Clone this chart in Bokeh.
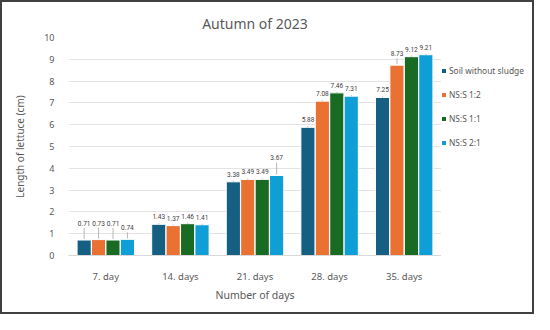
from bokeh.plotting import figure
from bokeh.layouts import row
from bokeh.models import FactorRange, Range1d, ColumnDataSource, Legend, LegendItem, SingleIntervalTicker
from bokeh.transform import dodge
from bokeh.core.properties import value
from bokeh.embed import file_html
from bokeh.resources import INLINE

categories = ["7. day", "14. days", "21. days", "28. days", "35. days"]
series_names = ["Soil without sludge", "NS:S 1:2", "NS:S 1:1", "NS:S 2:1"]
soil = [0.71, 1.43, 3.38, 5.88, 7.25]
ns12 = [0.73, 1.37, 3.49, 7.08, 8.73]
ns11 = [0.71, 1.46, 3.49, 7.46, 9.12]
ns21 = [0.74, 1.41, 3.67, 7.31, 9.21]
series_values = [soil, ns12, ns11, ns21]
colors = ["#156082", "#E97132", "#196B24", "#0F9ED5"]
# extra label lift in pixels (style), per series per category
label_lift = [
    [9, 0, 0, 0, 0],
    [9, 0, 0, 0, 4],
    [9, 0, 0, 0, 0],
    [4, 0, 10, 0, 0],
]

FONT = "Noto Sans"
LABEL_FONT = "Roboto"
GRAY = "#595959"
W_MAIN, W_LEG, H = 439, 91, 310
BL, BT, BB = 66, 35, 57

p = figure(x_range=FactorRange(*categories, range_padding=0), y_range=Range1d(0, 10),
           width=W_MAIN, height=H, output_backend="svg", toolbar_location=None,
           min_border_left=BL, min_border_right=0, min_border_top=BT, min_border_bottom=BB,
           title="Autumn of 2023")
p.title.align = "center"
p.title.text_font = FONT
p.title.text_font_size = "14px"
p.title.text_font_style = "normal"
p.title.text_color = GRAY
p.outline_line_color = None

px_per_unit = (H - BT - BB) / 10.0
bw = 0.19
offsets = [-0.29, -0.097, 0.097, 0.29]
for i, (name, vals) in enumerate(zip(series_names, series_values)):
    src = ColumnDataSource(dict(
        cat=categories, val=vals, lbl=[f"{v:.2f}" for v in vals],
        lift=[v + 5.0 / px_per_unit + l / px_per_unit for v, l in zip(vals, label_lift[i])],
        top0=[v + 1.0 / px_per_unit for v in vals],
        top1=[v + (3.0 + l) / px_per_unit if l > 0 else v for v, l in zip(vals, label_lift[i])],
    ))
    p.vbar(x=dodge("cat", offsets[i], range=p.x_range), top="val", width=bw,
           source=src, fill_color=colors[i], line_color="white", line_width=1)
    p.segment(x0=dodge("cat", offsets[i], range=p.x_range), x1=dodge("cat", offsets[i], range=p.x_range),
              y0="top0", y1="top1", source=src, line_color="#a6a6a6", line_width=0.8)
    p.text(x=dodge("cat", offsets[i], range=p.x_range), y="lift", text="lbl", source=src,
           text_font=value(LABEL_FONT), text_font_size="6.5px", text_color="#404040",
           text_align="center", text_baseline="bottom")

p.yaxis.ticker = SingleIntervalTicker(interval=1)
p.yaxis.axis_line_color = None
p.yaxis.major_tick_line_color = None
p.yaxis.minor_tick_line_color = None
p.yaxis.major_label_text_font = FONT
p.yaxis.major_label_text_font_size = "9px"
p.yaxis.major_label_text_color = GRAY
p.yaxis.major_label_standoff = 8
p.yaxis.axis_label = "Length of lettuce (cm)"
p.yaxis.axis_label_text_font = FONT
p.yaxis.axis_label_text_font_size = "10px"
p.yaxis.axis_label_text_font_style = "normal"
p.yaxis.axis_label_text_color = GRAY
p.yaxis.axis_label_standoff = 14

p.xaxis.axis_line_color = "#d9d9d9"
p.xaxis.major_tick_line_color = None
p.xaxis.minor_tick_line_color = None
p.xaxis.major_label_text_font = FONT
p.xaxis.major_label_text_font_size = "9.5px"
p.xaxis.major_label_text_color = GRAY
p.xaxis.major_label_standoff = 8
p.xaxis.axis_label = "Number of days"
p.xaxis.axis_label_text_font = FONT
p.xaxis.axis_label_text_font_size = "10.5px"
p.xaxis.axis_label_text_font_style = "normal"
p.xaxis.axis_label_text_color = GRAY
p.xaxis.axis_label_standoff = 2

p.xgrid.grid_line_color = None
p.ygrid.grid_line_color = "#e3e3e3"

# legend panel (hidden proxy glyphs outside its visible range)
lp = figure(width=W_LEG, height=H, x_range=Range1d(0, 1), y_range=Range1d(0, 1),
            x_axis_location=None, y_axis_location=None,
            output_backend="svg", toolbar_location=None,
            min_border_left=0, min_border_right=0, min_border_top=BT, min_border_bottom=BB)
lp.grid.grid_line_color = None
lp.outline_line_color = None
leg_r = []
for c in colors:
    leg_r.append(lp.vbar(x=[5], top=[5], bottom=[4], width=0.1, fill_color=c, line_color=None))
legend = Legend(items=[LegendItem(label=n, renderers=[r]) for n, r in zip(series_names, leg_r)],
                location=(0, 105), border_line_color=None, background_fill_alpha=0,
                label_text_font=FONT, label_text_font_size="8.4px", label_text_color=GRAY,
                glyph_width=5, glyph_height=5, label_height=15, spacing=9,
                padding=2, margin=0, label_standoff=3)
lp.add_layout(legend)

layout = row(p, lp)
layout.styles = {"border": "2px solid #404040"}

open("out.html", "w").write(file_html(layout, INLINE))
